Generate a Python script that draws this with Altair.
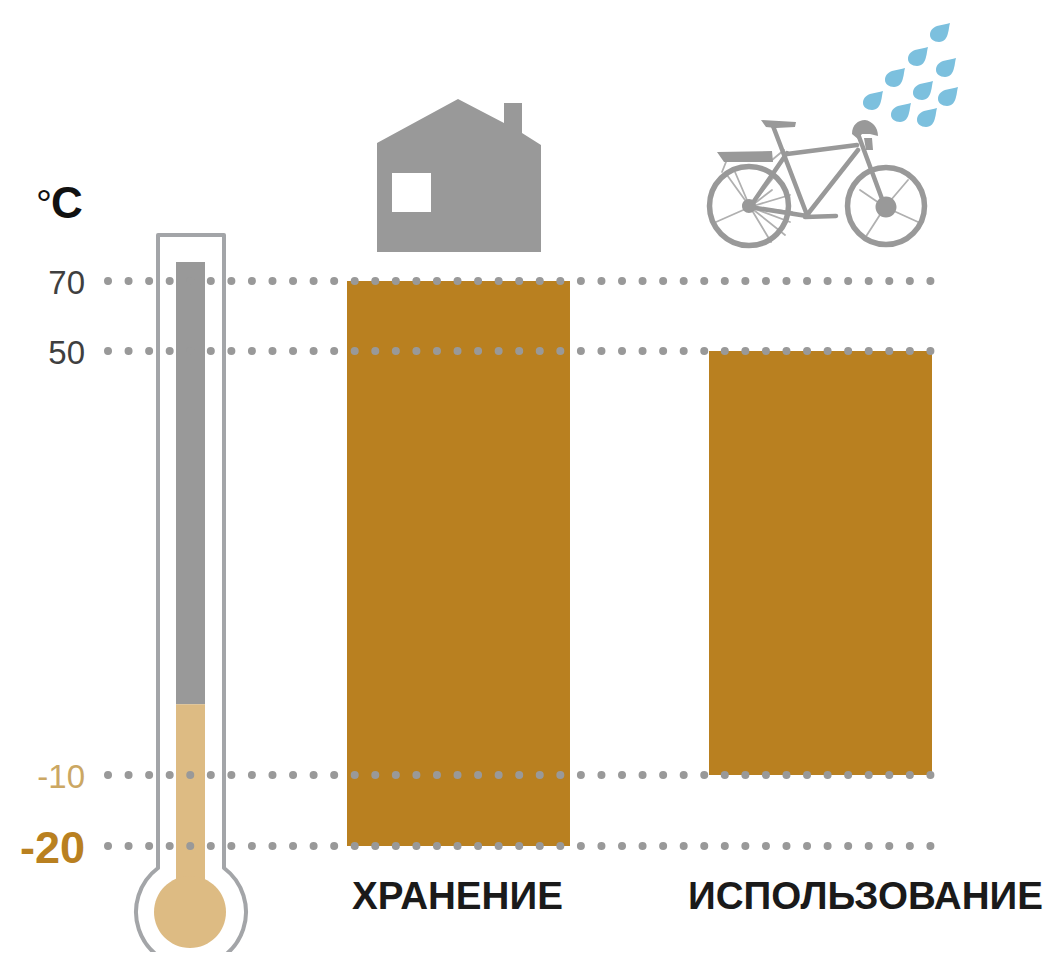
import altair as alt
import pandas as pd

# ---- values ----
categories = ["ХРАНЕНИЕ", "ИСПОЛЬЗОВАНИЕ"]
temp_low = [-20, -10]
temp_high = [70, 50]
grid_temps = [70, 50, -10, -20]
tick_text = ["70", "50", "-10", "-20"]
drop_x = [939, 917, 945, 894, 922, 947, 872, 900, 926]
drop_y = [33, 57, 68, 78, 91, 97, 101, 113, 118]

GREY = "#999999"
BROWN = "#B98020"
TAN = "#DDBB83"
BLUE = "#7CC0DE"
FONT = "Liberation Sans"

# the temperature axis of the original is not linear: 20° at the top takes as much as 10° at the bottom
y_scale = alt.Scale(domain=[-20, -10, 50, 70], range=[838, 767, 343, 273], clamp=False, nice=False, zero=False)
x_band = alt.Scale(type="band", domain=categories, range=[339, 924], paddingInner=0.384, paddingOuter=0)

bars_df = pd.DataFrame({"cat": categories, "low": temp_low, "high": temp_high})
grid_df = pd.DataFrame({"t": grid_temps})
drops_df = pd.DataFrame({"px": [v - 8 for v in drop_x], "py": [v - 8 for v in drop_y]})


def icon(path, filled=True, fill=GREY, stroke=None, sw=0):
    """Decorative pictogram: path is in page pixels, size=4 means scale 1."""
    kw = dict(shape=path, size=4, opacity=1, filled=filled)
    if filled:
        kw["fill"] = fill
        kw["strokeWidth"] = 0
    else:
        kw["stroke"] = stroke
        kw["strokeWidth"] = sw
        kw["strokeCap"] = "round"
        kw["strokeJoin"] = "round"
    return alt.Chart(bars_df.head(1)).mark_point(**kw).encode(x=alt.value(-8), y=alt.value(-8))


def circle(cx, cy, r):
    return f"M{cx - r} {cy}A{r} {r} 0 1 1 {cx + r} {cy}A{r} {r} 0 1 1 {cx - r} {cy}Z"


def col(low, high, color):
    d = pd.DataFrame({"a": [low], "b": [high]})
    return alt.Chart(d).mark_rect(color=color).encode(
        x=alt.value(168), x2=alt.value(197),
        y=alt.Y("a:Q", scale=y_scale, axis=None), y2="b:Q",
    )


bars = alt.Chart(bars_df).mark_bar(color=BROWN).encode(
    x=alt.X("cat:N", scale=x_band, axis=None, sort=categories),
    y=alt.Y("low:Q", scale=y_scale, axis=None),
    y2="high:Q",
)

grid = alt.Chart(grid_df).mark_rule(
    color=GREY, strokeWidth=8, strokeCap="round", strokeDash=[0.01, 20.55]
).encode(
    x=alt.value(100), x2=alt.value(925),
    y=alt.Y("t:Q", scale=y_scale, axis=None),
)


def tick(i, color, size, weight):
    d = pd.DataFrame({"t": [grid_temps[i]], "s": [tick_text[i]]})
    return alt.Chart(d).mark_text(
        align="right", baseline="middle", dy=3, font=FONT, fontSize=size, fontWeight=weight, color=color
    ).encode(x=alt.value(77), y=alt.Y("t:Q", scale=y_scale, axis=None), text="s:N")


ticks = [
    tick(0, "#3F3F3F", 33, "normal"),
    tick(1, "#3F3F3F", 33, "normal"),
    tick(2, "#CBA763", 33, "normal"),
    tick(3, BROWN, 45, "bold"),
]


def unit_part(s, x, size, weight):
    return alt.Chart(pd.DataFrame({"s": [s]})).mark_text(
        align="left", baseline="alphabetic", font=FONT, fontSize=size, fontWeight=weight, color="#111111"
    ).encode(x=alt.value(x), y=alt.value(210), text="s:N")


unit = [unit_part("°", 28, 40, "normal"), unit_part("C", 43, 44, "bold")]


def cat_label(i, dx):
    d = pd.DataFrame({"cat": [categories[i]]})
    return alt.Chart(d).mark_text(
        align="center", baseline="alphabetic", dx=dx, font=FONT, fontSize=38.6, fontWeight="bold", color="#1A1A1A"
    ).encode(x=alt.X("cat:N", scale=x_band, axis=None, sort=categories), y=alt.value(901), text="cat:N")


labels = [cat_label(0, -1), cat_label(1, 45)]

# thermometer
outline = icon("M158 868L158 235L224 235L224 868A55 55 0 1 1 158 868", filled=False, stroke="#A3A5A8", sw=4)
bulb = icon(circle(190, 912, 36), fill=TAN)

# house, with the window cut out by a reversed sub-path
house = icon(
    "M377 143L458 99L504 123L504 103L522 103L522 133L541 145L541 252L377 252Z"
    "M392 173L392 212L431 212L431 173Z"
)

# rain
drop_path = "M11 -10C8 -9 2 -8 -2 -7C-7 -5 -9 -2 -9 2C-9 6 -5 9 0 9C5 9 8 5 9 0C10 -3 10 -7 11 -10Z"
drops = alt.Chart(drops_df).mark_point(shape=drop_path, size=4, filled=True, fill=BLUE, opacity=1, strokeWidth=0).encode(
    x=alt.X("px:Q", scale=None, axis=None), y=alt.Y("py:Q", scale=None, axis=None)
)

# bicycle
bike_wheels = icon(circle(749, 206, 39.5) + circle(886, 206, 38.5), filled=False, stroke=GREY, sw=5.5)
bike_frame = icon(
    "M773 126L807 215"
    "M787 154L857 145"
    "M858 150L807 215"
    "M858 134L885 207"
    "M807 216L750 207"
    "M787 153L750 207"
    "M805 217L836 216",
    filled=False, stroke=GREY, sw=4.5,
)
bike_spokes = icon(
    "M750 207L735 172M750 207L727 175M750 207L773 178M750 207L790 195M750 207L792 212M750 207L790 222"
    "M750 207L771 242M750 207L716 222M750 207L772 190M750 207L785 235"
    "M885 207L860 190M885 207L908 180M885 207L918 222M885 207L865 238"
    "M726 162L722 172M772 160L784 150",
    filled=False, stroke="#B0B0B0", sw=1.8,
)
bike_parts = icon(
    circle(749, 206, 7) + circle(886, 207, 10.5)
    + "M761 120L796 122L795 127L776 128L766 127Z"
    + "M717 152L772 151L773 162L724 162Z"
    + "M852 134C852 125 858 120 865 120C872 121 878 127 878 136L870 134L862 134L858 139Z"
    + "M864 138L872 138L873 150L866 150Z",
)

chart = alt.layer(
    col(0, 75.4, GREY), col(-24.8, 0, TAN), bulb, outline,
    bars, grid, *ticks, *unit, *labels,
    house, drops, bike_spokes, bike_wheels, bike_frame, bike_parts,
).resolve_scale(x="independent", y="independent").properties(
    width=1037, height=944, padding=0, autosize="none", background="white"
).configure_view(stroke=None)

chart.save("out.html", embed_options={"renderer": "svg", "actions": False})
